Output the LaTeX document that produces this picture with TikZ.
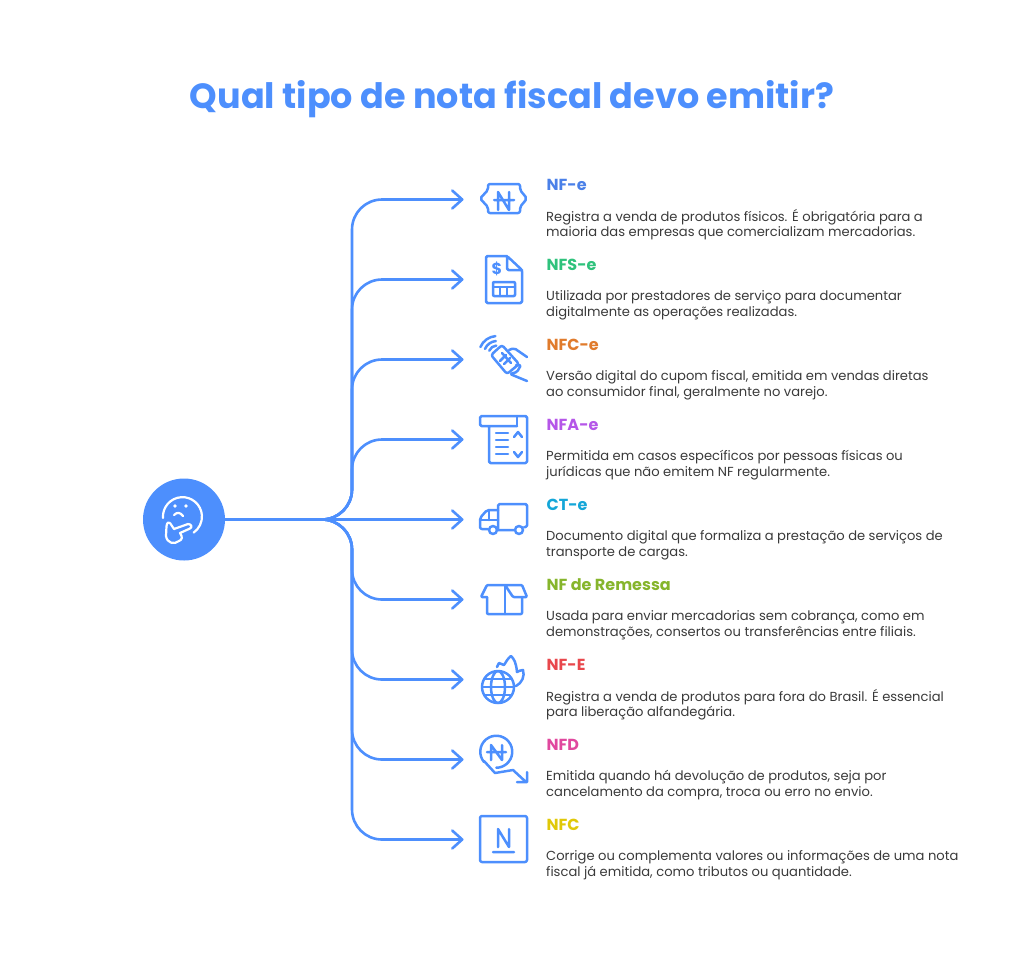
\documentclass[tikz,border=0pt]{standalone}
\usepackage{fontspec}
\setmainfont{Poppins}
\usetikzlibrary{arrows.meta}
\definecolor{mainblue}{HTML}{4D8FFD}
\definecolor{cnfe}{HTML}{4A80E8}
\definecolor{cnfs}{HTML}{2FC27C}
\definecolor{cnfc}{HTML}{E07B2C}
\definecolor{cnfa}{HTML}{B556E8}
\definecolor{ccte}{HTML}{14A6D8}
\definecolor{crem}{HTML}{86B52C}
\definecolor{cnfx}{HTML}{E8474C}
\definecolor{cnfd}{HTML}{E0489E}
\definecolor{cnfy}{HTML}{E0C808}
\definecolor{bodytext}{HTML}{3A3A3A}
\begin{document}
\begin{tikzpicture}[
        x=1pt, y=-1pt,
        hub/.style={circle, fill=mainblue, minimum size=82pt, inner sep=0pt},
        link/.style={draw=mainblue, line width=2.6pt, rounded corners=30pt, -{Straight Barb[round,length=10pt,width=18pt]}},
        ico/.style={draw=mainblue, line width=2.5pt, line cap=round, line join=round},
        face/.style={draw=white, line width=2.2pt, line cap=round, line join=round},
        ttl/.style={anchor=west, inner sep=0pt, font=\fontsize{16}{18}\selectfont\bfseries},
        desc/.style={anchor=west, inner sep=0pt, text=bodytext, font=\fontsize{13.1}{16}\selectfont},
        heading/.style={inner sep=0pt, text=mainblue, font=\fontsize{35}{40}\selectfont\bfseries}
        ]
        \useasboundingbox (0,0) rectangle (1024,975);
        \node[heading] (title) at (512,99) {Qual tipo de nota fiscal devo emitir?};
        \node[hub] (q) at (184,519.5) {};
        \coordinate (tr) at (352,519.5);
        \foreach \i/\name/\col/\la/\lb in {
                0/NF-e/cnfe/{Registra a venda de produtos físicos. É obrigatória para a}/{maioria das empresas que comercializam mercadorias.},
                1/NFS-e/cnfs/{Utilizada por prestadores de serviço para documentar}/{digitalmente as operações realizadas.},
                2/NFC-e/cnfc/{Versão digital do cupom fiscal, emitida em vendas diretas}/{ao consumidor final, geralmente no varejo.},
                3/NFA-e/cnfa/{Permitida em casos específicos por pessoas físicas ou}/{jurídicas que não emitem NF regularmente.},
                4/CT-e/ccte/{Documento digital que formaliza a prestação de serviços de}/{transporte de cargas.},
                5/NF de Remessa/crem/{Usada para enviar mercadorias sem cobrança, como em}/{demonstrações, consertos ou transferências entre filiais.},
                6/NF-E/cnfx/{Registra a venda de produtos para fora do Brasil. É essencial}/{para liberação alfandegária.},
                7/NFD/cnfd/{Emitida quando há devolução de produtos, seja por}/{cancelamento da compra, troca ou erro no envio.},
                8/NFC/cnfy/{Corrige ou complementa valores ou informações de uma nota}/{fiscal já emitida, como tributos ou quantidade.}} {
            \coordinate (a\i) at (463.5,199.5+80*\i);
            \ifnum\i=4
                \draw[link] (q.east) -- (a\i);
            \else
                \draw[link] (q.east) -| (tr |- a\i) -- (a\i);
            \fi
            \node[ttl, text=\col] (t\i) at (546.5,184.5+80*\i) {\name};
            \node[desc] (da\i) at (546,217.5+80*\i) {\la};
            \node[desc] (db\i) at (546,233.5+80*\i) {\lb};
        }
        \draw[face] (163,518) arc (-184:55:19.5);
        \fill[white] (175,506) circle (1.8) (186,506) circle (1.8);
        \draw[face] (174,515) .. controls (177,512) and (180,512) .. (183,516);
        \draw[face] (170,523) -- (174,529) -- (188,524) .. controls (191,524) and (193,527) .. (190,528.5)
            -- (180,533) .. controls (183,537) and (182,540) .. (179,541) .. controls (174,545) and (167,543) .. (166,536)
            -- (166.5,526) .. controls (167,522) and (169,522) .. (170,523);

        \draw[ico, rounded corners=2pt] (488,184) -- (520,184) -- (520,190) -- (527,198.5) -- (520,207) -- (520,213)
            -- (488,213) -- (488,207) -- (480,198.5) -- (488,190) -- cycle;
        \draw[ico] (498,210) -- (498,192) -- (509,210) -- (509,192) (494,200) -- (514,200);

        \draw[ico, rounded corners=1.5pt] (507,256) -- (486,256) -- (486,303) -- (522,303) -- (522,270) -- (507,256) -- (507,270) -- (522,270);
        \node[inner sep=0pt, text=mainblue, font=\fontsize{16}{16}\selectfont\bfseries] (dollar) at (497,269) {\$};
        \draw[ico, rounded corners=1pt] (493,282) rectangle (515,296);
        \draw[ico] (493,287) -- (515,287) (500,287) -- (500,296) (507,287) -- (507,296);

        \draw[ico] (489.2,350.7) arc (-157:-95:8.5);
        \draw[ico] (485,348.9) arc (-157:-95:13);
        \draw[ico] (480.4,347) arc (-157:-95:18);
        \draw[ico, rounded corners=2.5pt] (491,355) -- (502,345) -- (519,364) -- (507,374) -- cycle;
        \draw[ico] (502,353) -- (511,363) (500,361) -- (506,355) (504,364) -- (510,358);
        \draw[ico, rounded corners=2pt] (509,350) -- (514,348) -- (527,357);
        \draw[ico, rounded corners=1.5pt] (516,365) -- (521,365) -- (517,372) -- (510,374) -- (527,381);

        \draw[ico, rounded corners=1.5pt] (517,426) -- (480,426) -- (480,416) -- (527,416) -- (527,463) -- (489,463) -- (489,426);
        \draw[ico] (517,426) -- (517,416);
        \draw[ico] (496,433) -- (508,433) (496,440) -- (508,440) (496,447) -- (508,447) (496,454) -- (508,454);
        \draw[ico] (514,437) -- (518,432) -- (522,437) (514,452) -- (518,457) -- (522,452);

        \draw[ico, rounded corners=1.5pt] (498,530) -- (498,504) -- (527,504) -- (527,527) -- (524,527);
        \draw[ico, rounded corners=2pt] (498,510) -- (487,510) -- (480,518) -- (480,529) -- (488,529);
        \draw[ico] (480,520) -- (498,520) (489,511) -- (489,520);
        \draw[ico] (493,530) circle (4) (519,530) circle (4) (498,530) -- (514,530);

        \draw[ico, rounded corners=1pt] (487,597) -- (487,614) -- (522,614) -- (522,597);
        \draw[ico] (505,585) -- (505,614);
        \draw[ico, rounded corners=1pt] (487,597) -- (481,597) -- (487,585) -- (522,585) -- (527,597) -- (513,597) -- (505,585);

        \draw[ico] (498,687) circle (16) (498,687) ellipse (7 and 16);
        \draw[ico] (482,687) -- (514,687) (484.5,679) -- (511.5,679) (484.5,695) -- (511.5,695);
        \draw[ico] (497,667) -- (499,663) -- (504,665) .. controls (506,662) and (508,658) .. (511,656)
            .. controls (514,659) and (516,662) .. (517,672) .. controls (519,671) and (521,670) .. (523,670)
            .. controls (525,676) and (522,683) .. (516,686);

        \draw[ico] (484,762) arc (140:450:16);
        \draw[ico] (491,760) -- (491,745) -- (502,760) -- (502,745) (487,752) -- (506,752);
        \draw[ico] (484,761) -- (495,773) -- (513,770) -- (526,782) (527,772) -- (527,782) -- (517,782);

        \draw[ico, rounded corners=2pt] (480,816) rectangle (527,862);
        \draw[ico] (498,847) -- (498,829) -- (509,847) -- (509,829) (493,852) -- (514,852);
        \end{tikzpicture}
\end{document}
